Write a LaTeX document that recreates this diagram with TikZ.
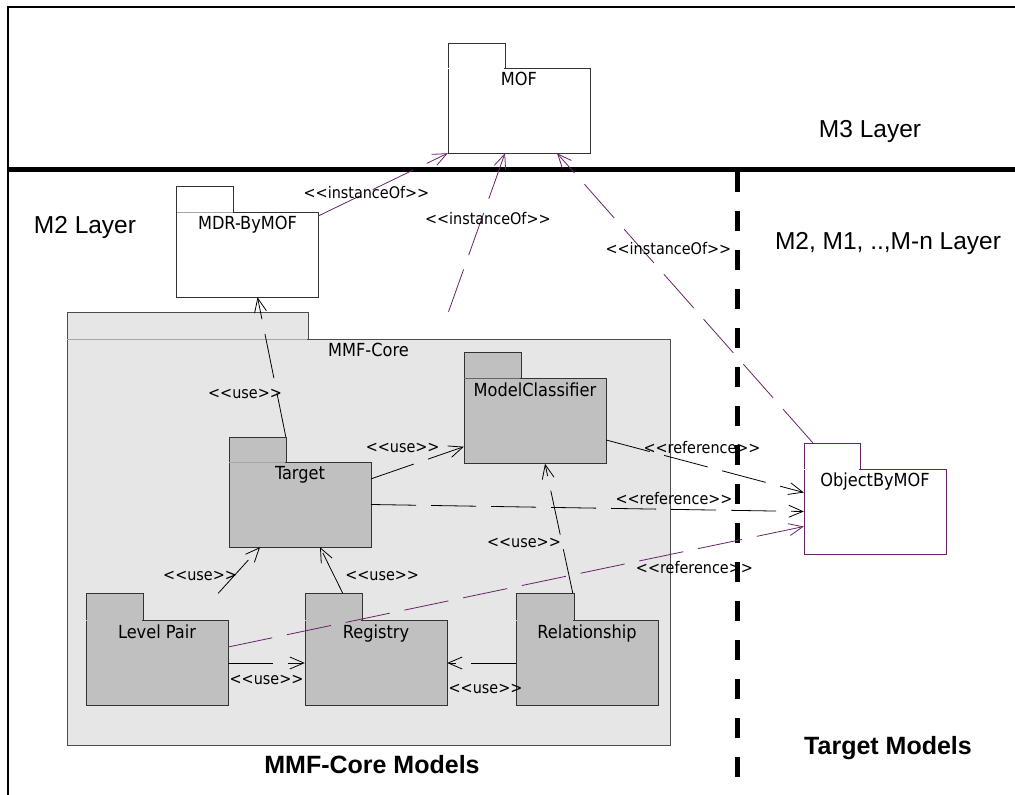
\documentclass[tikz,border=0pt]{standalone}
\usepackage{fontspec}
\setmainfont{Liberation Sans}
\newfontfamily\umlfont{DejaVu Sans Condensed}
\usetikzlibrary{arrows.meta,calc}
\definecolor{lila}{RGB}{102,36,102}
\definecolor{pkggray}{RGB}{192,192,192}
\definecolor{coregray}{RGB}{230,230,230}
\newcommand{\stereo}[1]{<{}<#1>{}>}

\begin{document}
\begin{tikzpicture}[x=1pt,y=-1pt,
    pkg/.style={draw=black!80, fill=pkggray, minimum width=142pt, minimum height=85pt, inner sep=0pt},
    pkgname/.style={anchor=north, inner sep=4pt, font=\umlfont\fontsize{18}{20}\selectfont},
    dep/.style={line width=0.8pt, dash pattern=on 45pt off 15pt, -{Straight Barb[length=14pt,width=12pt]}},
    st/.style={font=\umlfont\fontsize{16}{18}\selectfont, text=black, solid},
    layer/.style={font=\fontsize{24.5}{28}\selectfont}]

    \useasboundingbox (0,0) rectangle (1015,795);

    % frame and layer borders
    \draw[line width=2pt] (1015,7) -- (8,7) -- (8,795);
    \draw[line width=5pt] (8,169) -- (1015,169);
    \draw[line width=5pt, dash pattern=on 20pt off 19pt] (737,172) -- (737,795);

    \node[layer] (m3) at (870,131) {M3 Layer};
    \node[layer] (m2) at (85,227) {M2 Layer};
    \node[layer] (mn) at (888,243) {M2, M1, ..,M-n Layer};
    \node[font=\bfseries\fontsize{25}{28}\selectfont] (coremodels) at (372,765) {MMF-Core Models};
    \node[font=\bfseries\fontsize{25}{28}\selectfont] (targetmodels) at (888,748) {Target Models};

    % packages
    \node[pkg, fill=white, label={[pkgname]north:MOF}] (mof) at (519,110.5) {};
    \node[pkg, fill=white, label={[pkgname]north:MDR-ByMOF}] (mdr) at (247.5,254.5) {};
    \node[pkg, fill=coregray, draw=black!70, minimum width=603pt, minimum height=406pt, label={[pkgname]north:MMF-Core}] (core) at (368.5,542) {};
    \node[pkg, label={[pkgname]north:ModelClassifier}] (mc) at (535,421) {};
    \node[pkg, label={[pkgname]north:Target}] (target) at (300,504.5) {};
    \node[pkg, label={[pkgname]north:Level Pair}] (lp) at (157,663) {};
    \node[pkg, label={[pkgname]north:Registry}] (reg) at (376,663) {};
    \node[pkg, label={[pkgname]north:Relationship}] (rel) at (587,663) {};
    \node[pkg, fill=white, draw=lila, label={[pkgname]north:ObjectByMOF}] (obj) at (875,511.5) {};

    % tabs: name/width/height/fill/border/separator
    \foreach \n/\w/\h/\f/\c/\s in {mof/57/25/white/black!80/white, mdr/57/26/white/black!80/black!35,
        core/241/27/coregray/black!70/black!35, mc/57/26/pkggray/black!80/black!60,
        target/57/25/pkggray/black!80/black!35, lp/57/27/pkggray/black!80/pkggray,
        reg/57/27/pkggray/black!80/pkggray, rel/58/27/pkggray/black!80/pkggray, obj/56/26/white/lila/white} {
        \draw[fill=\f, draw=\c] (\n.north west) -- ++(0,-\h) -- ++(\w,0) -- ++(0,\h);
        \draw[\s] ($(\n.north west)+(0.6,0)$) -- ++(\w-1.2,0);
    }

    % dependencies
    \draw[dep, lila] ($(mdr.north east)+(0,4)$) -- (mof.south west) node[st, pos=0.37] {\stereo{instanceOf}};
    \draw[dep, lila] ($(core.north)+(80,-27)$) -- ($(mof.south)+(-14,0)$) node[st, pos=0.59, xshift=6pt] {\stereo{instanceOf}};
    \draw[dep, lila] ($(obj.north west)+(9,-26)$) -- ($(mof.south)+(38,0)$) node[st, pos=0.67, xshift=27pt] {\stereo{instanceOf}};

    \draw[dep] ($(target.north west)+(57,-25)$) -- ($(mdr.south)+(10,0)$) node[st, pos=0.31, xshift=-32pt] {\stereo{use}};
    \draw[dep] ($(target.north east)+(0,17)$) -- ($(mc.south west)+(0,-17)$) node[st, pos=0.34, yshift=20pt] {\stereo{use}};
    \draw[dep] (target.east) -- (obj.west) node[st, pos=0.7, yshift=11pt] {\stereo{reference}};
    \draw[dep] ($(mc.east)+(0,19)$) -- ($(obj.west)+(0,-19)$) node[st, pos=0.485, yshift=18pt] {\stereo{reference}};
    \draw[dep, lila] ($(lp.east)+(0,-16)$) -- ($(obj.west)+(0,15)$) node[st, pos=0.81, yshift=-18pt] {\stereo{reference}};

    \draw[dep] ($(lp.north east)+(-10,-27)$) -- ($(target.south)+(-40,0)$) node[st, pos=0.38, xshift=-34pt] {\stereo{use}};
    \draw[dep] ($(reg.north west)+(38,-27)$) -- ($(target.south)+(20,0)$) node[st, pos=0.38, xshift=48pt] {\stereo{use}};
    \draw[dep] (lp.east) -- (reg.west) node[st, midway, yshift=-17pt] {\stereo{use}};
    \draw[dep] (rel.west) -- (reg.east) node[st, midway, yshift=-26pt, xshift=4pt] {\stereo{use}};
    \draw[dep] ($(rel.north west)+(57,-27)$) -- ($(mc.south)+(10,0)$) node[st, pos=0.39, xshift=-38pt] {\stereo{use}};

\end{tikzpicture}
\end{document}
